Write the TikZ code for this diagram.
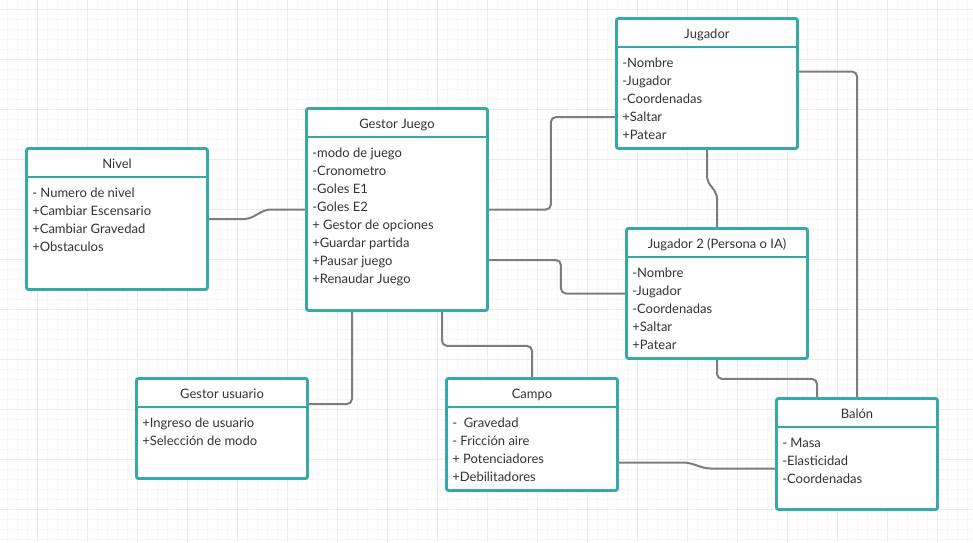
\documentclass[tikz,border=0pt]{standalone}
\usepackage{fontspec}
\setmainfont{Lato}
\usetikzlibrary{calc}
\definecolor{boxline}{HTML}{38A9A9}
\definecolor{linkgray}{HTML}{7D7D7D}
\definecolor{gridmajor}{HTML}{EBEBEB}
\definecolor{gridminor}{HTML}{F7F7F7}
\definecolor{txt}{HTML}{333333}
\tikzset{
  classbox/.style={draw=boxline, line width=1.8pt, rounded corners=2pt, fill=white, inner sep=0pt},
  divider/.style={draw=boxline, line width=1.8pt},
  classtitle/.style={anchor=base, inner sep=0pt, text=txt, font=\fontsize{13}{18}\selectfont},
  item/.style={anchor=base west, inner sep=0pt, text=txt, font=\fontsize{13}{18}\selectfont},
  link/.style={draw=linkgray, line width=2pt, rounded corners=5pt},
}
% one class: name, centre, width, height, title, list of members
\newcommand\umlclass[6]{%
  \node[classbox, minimum width=#3pt, minimum height=#4pt] (#1) at (#2) {};
  \draw[divider] ($(#1.north west)+(0,29)$) -- ($(#1.north east)+(0,29)$);
  \node[classtitle] (#1-title) at ($(#1.north)+(0,20.5)$) {#5};
  \foreach \t [count=\i] in {#6}
    \node[item] (#1-item\i) at ($(#1.north west)+(6,49+18*\i-18)$) {\t};
}
\begin{document}
\begin{tikzpicture}[x=1pt, y=-1pt]
  \useasboundingbox (0,0) rectangle (973,542);
  \fill[white] (0,0) rectangle (973,542);
  % background grid
  \foreach \gx in {7,17,...,967} \draw[gridminor, line width=1pt] (\gx,0) -- (\gx,542);
  \foreach \gy in {9,19,...,539} \draw[gridminor, line width=1pt] (0,\gy) -- (973,\gy);
  \foreach \gx in {37,87,...,937} \draw[gridmajor, line width=1pt] (\gx,0) -- (\gx,542);
  \foreach \gy in {9,59,...,509} \draw[gridmajor, line width=1pt] (0,\gy) -- (973,\gy);

  % classes
  \umlclass{nivel}{117,219}{180}{140}{Nivel}{{- Numero de nivel},{+Cambiar Escensario},{+Cambiar Gravedad},{+Obstaculos}}
  \umlclass{gestor}{397,209.5}{180}{201}{Gestor Juego}{{-modo de juego},{-Cronometro},{-Goles E1},{-Goles E2},{+ Gestor de opciones},{+Guardar partida},{+Pausar juego},{+Renaudar Juego}}
  \umlclass{jugador}{707,83.5}{180}{129}{Jugador}{{-Nombre},{-Jugador},{-Coordenadas},{+Saltar},{+Patear}}
  \umlclass{jugadorb}{717,293.5}{180}{129}{Jugador 2 (Persona o IA)}{{-Nombre},{-Jugador},{-Coordenadas},{+Saltar},{+Patear}}
  \umlclass{usuario}{222,428.5}{170}{99}{Gestor usuario}{{+Ingreso de usuario},{+Selección de modo}}
  \umlclass{campo}{532,434.5}{170}{111}{Campo}{{-\ \ Gravedad},{- Fricción aire},{+ Potenciadores},{+Debilitadores}}
  \umlclass{balon}{857,454}{160}{110}{Balón}{{- Masa},{-Elasticidad},{-Coordenadas}}

  % connectors
  \draw[link] (nivel.east) -- ++(41,0) -- ++(17,-9.5) -- (gestor.west);
  \draw[link] (gestor.east) -- ++(63,0) |- ($(jugador.west)+(0,33.5)$);
  \draw[link] ($(gestor.east)+(0,50.5)$) -- ++(73,0) |- (jugadorb.west);
  \draw[link] (jugador.south) -- ++(0,32) -- ++(10,13) -- (jugadorb.north);
  \draw[link] ($(jugador.east)+(0,-12)$) -| (balon.north);
  \draw[link] (jugadorb.south) -- ++(0,20) -| ($(balon.north)+(-40,0)$);
  \draw[link] ($(gestor.south)+(-45,0)$) |- ($(usuario.east)+(0,-24.5)$);
  \draw[link] ($(gestor.south)+(45,0)$) -- ++(0,35) -| (campo.north);
  \draw[link] ($(campo.east)+(0,28)$) -- ++(70,0) -- ++(18,6) -- ($(balon.west)+(0,14.5)$);

  % box outlines drawn again over the connector ends
  \foreach \b in {nivel,gestor,jugador,jugadorb,usuario,campo,balon}
    \draw[draw=boxline, line width=1.8pt, rounded corners=2pt] (\b.north west) rectangle (\b.south east);
\end{tikzpicture}
\end{document}
